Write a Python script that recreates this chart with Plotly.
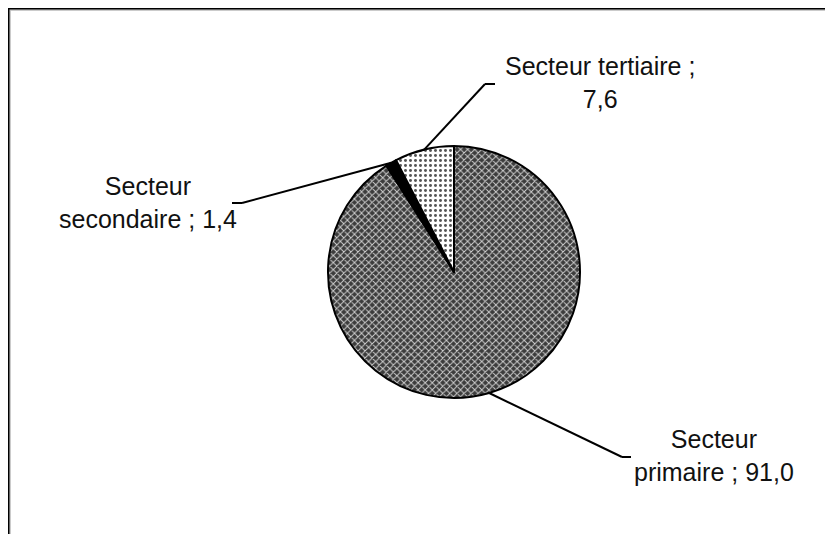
import math
import plotly.graph_objects as go

# ---- data ----
sectors = ["Secteur primaire", "Secteur secondaire", "Secteur tertiaire"]
values = [91.0, 1.4, 7.6]
label_texts = ["Secteur<br>primaire ; 91,0", "Secteur<br>secondaire ; 1,4", "Secteur tertiaire ;<br>7,6"]

# ---- layout constants (screen pixels; page body adds an 8 px margin) ----
W, H = 833, 534
OFF = 8
CX, CY, R = 454, 272, 126          # pie centre and radius on screen
label_pos = [(714, 455), (148, 202), (600, 82)]
elbow_pos = [(622, 457), (242, 203), (485, 84)]
stub_end = [(631, 457), (232, 203), (495, 84)]

def px(x):
    return (x - OFF) / W

def py(y):
    return 1 - (y - OFF) / H

fig = go.Figure()
fig.add_trace(go.Pie(
    labels=sectors,
    values=values,
    sort=False,
    direction="clockwise",
    rotation=0,
    textinfo="none",
    hoverinfo="label+value",
    showlegend=False,
    domain=dict(x=[px(CX - R), px(CX + R)], y=[py(CY + R), py(CY - R)]),
    marker=dict(
        colors=["#444444", "#000000", "#ffffff"],
        line=dict(color="#000000", width=2),
        pattern=dict(
            shape=["x", "", "."],
            bgcolor=["#3c3c3c", "#000000", "#ffffff"],
            fgcolor=["#cfcfcf", "#000000", "#555555"],
            size=[5, 4, 5],
            solidity=[0.35, 0.5, 0.28],
        ),
    ),
))

# leader lines computed from the slice mid-angles
total = sum(values)
cum = 0.0
shapes = []
annotations = []
for i, v in enumerate(values):
    mid = (cum + v / 2) / total * 2 * math.pi  # clockwise from 12 o'clock
    cum += v
    ex = CX + R * math.sin(mid)
    ey = CY - R * math.cos(mid)
    bx, by = elbow_pos[i]
    sx, sy = stub_end[i]
    shapes.append(dict(type="line", xref="paper", yref="paper",
                       x0=px(ex), y0=py(ey), x1=px(bx), y1=py(by),
                       line=dict(color="black", width=2)))
    shapes.append(dict(type="line", xref="paper", yref="paper",
                       x0=px(bx), y0=py(by), x1=px(sx), y1=py(sy),
                       line=dict(color="black", width=2)))
    lx, ly = label_pos[i]
    annotations.append(dict(
        x=px(lx), y=py(ly), xref="paper", yref="paper",
        text=label_texts[i], showarrow=False, align="center",
        xanchor="center", yanchor="middle",
        font=dict(family="Liberation Sans, Arial, sans-serif", size=25, color="#111111"),
    ))

# chart frame with light shadow
shapes.append(dict(type="rect", xref="paper", yref="paper",
                   x0=px(10), y0=py(600), x1=px(900), y1=py(10),
                   line=dict(color="#bbbbbb", width=1.5), layer="below"))
shapes.append(dict(type="rect", xref="paper", yref="paper",
                   x0=px(8.5), y0=py(600), x1=px(900), y1=py(8.5),
                   line=dict(color="black", width=2)))

fig.update_layout(
    width=W, height=H,
    margin=dict(l=0, r=0, t=0, b=0),
    paper_bgcolor="white",
    plot_bgcolor="white",
    shapes=shapes,
    annotations=annotations,
)

fig.write_html("out.html")
